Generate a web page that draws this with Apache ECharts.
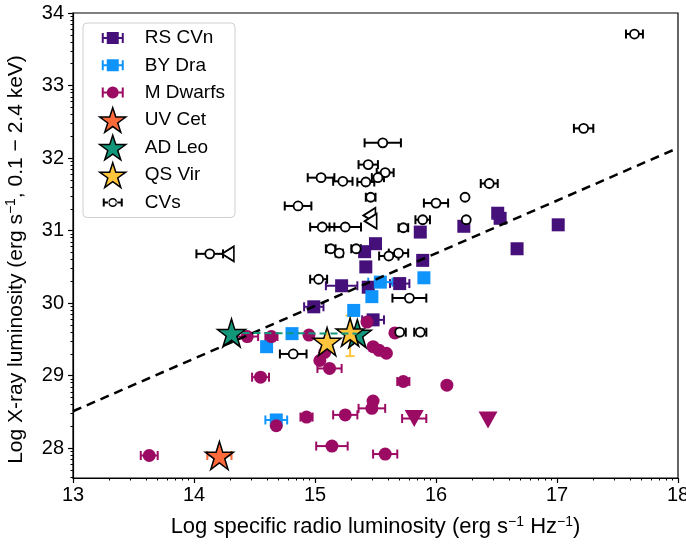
<!DOCTYPE html>
<html>
<head>
<meta charset="utf-8">
<script src="https://cdn.jsdelivr.net/npm/echarts@6/dist/echarts.min.js"></script>
<style>html,body{margin:0;padding:0;background:#fff}#c{width:686px;height:554px}</style>
</head>
<body>
<div id="c"></div>
<script>
// ---------- data ----------
const xTicks = [13, 14, 15, 16, 17, 18];
const yTicks = [28, 29, 30, 31, 32, 33, 34];

const rsX   = [16.51, 16.53, 16.23, 17.01, 16.67, 15.89, 15.87, 15.50, 15.41, 15.42, 15.22, 15.70, 15.44, 14.99, 15.48];
const rsY   = [31.24, 31.17, 31.06, 31.08, 30.75, 30.59, 30.98, 30.82, 30.71, 30.50, 30.24, 30.27, 30.22, 29.95, 29.77];
const rsErr = [0, 0, 0, 0, 0, 0, 0, 0, 0, 0, 0.13, 0.08, 0, 0.08, 0.09];

const byX   = [15.90, 15.54, 15.47, 15.32, 14.81, 14.60, 14.68];
const byY   = [30.35, 30.29, 30.09, 29.90, 29.58, 29.40, 28.39];
const byErr = [0, 0.10, 0, 0, 0, 0, 0.09];

const mdX   = [14.44, 14.64, 14.95, 15.43, 15.04, 15.12, 15.08, 15.48, 15.59, 15.53, 15.66, 14.55, 14.93, 15.25, 15.47, 15.48, 14.68, 13.63, 15.14, 15.58, 15.73, 16.09];
const mdY   = [29.54, 29.54, 29.56, 29.74, 29.21, 29.10, 29.32, 29.40, 29.31, 29.35, 29.59, 28.98, 28.43, 28.46, 28.55, 28.65, 28.31, 27.90, 28.03, 27.92, 28.92, 28.87];
const mdErr = [0.09, 0.05, 0, 0, 0, 0.10, 0, 0, 0, 0, 0, 0.07, 0.05, 0.10, 0.11, 0, 0, 0.07, 0.13, 0.10, 0.05, 0];

const mdLimX   = [15.82, 16.43];
const mdLimY   = [28.41, 28.39];
const mdLimErr = [0.10, 0];

const uvX = [14.21], uvY = [27.90], uvErr = [0.10];
const adX = [14.31, 15.35], adY = [29.59, 29.58];
const qsX = [15.10, 15.29], qsY = [29.47, 29.60];
const qsYLo = [29.47, 29.27], qsYHi = [29.47, 29.83];

const cvX   = [17.64, 17.22, 15.56, 15.44, 15.58, 15.05, 15.23, 15.42, 15.52, 15.46, 14.86, 16.00, 16.24, 15.06, 15.25, 15.73, 15.89, 16.25, 15.13, 15.20, 15.34, 15.61, 15.69, 14.13, 15.03, 15.78, 14.82, 15.70, 15.87, 16.44];
const cvY   = [33.71, 32.41, 32.21, 31.91, 31.80, 31.73, 31.68, 31.67, 31.73, 31.46, 31.34, 31.38, 31.46, 31.05, 31.05, 31.04, 31.15, 31.15, 30.75, 30.69, 30.75, 30.65, 30.69, 30.68, 30.33, 30.07, 29.30, 29.60, 29.60, 31.65];
const cvErr = [0.07, 0.08, 0.15, 0.08, 0.07, 0.11, 0.08, 0.07, 0.05, 0.04, 0.11, 0.10, 0, 0.10, 0.13, 0.04, 0.06, 0, 0.04, 0.03, 0.04, 0.08, 0.08, 0.11, 0.07, 0.14, 0.11, 0.05, 0.05, 0.07];

const cvLimX = [15.45, 15.46, 14.28];
const cvLimY = [31.21, 31.13, 30.68];

const fitX = [13, 18];
const fitY = [28.51, 32.14];

// ---------- styling ----------
const C_RS = '#45107a', C_BY = '#0f94fc', C_MD = '#9c0b63', C_UV = '#ff6a3a', C_AD = '#12977a', C_QS = '#ffc53c';
const FONT = '"Liberation Sans", Arial, Helvetica, sans-serif';
const STAR = 'path://M0,-10L2.245,-3.09L9.511,-3.09L3.633,1.18L5.878,8.09L0,3.82L-5.878,8.09L-3.633,1.18L-9.511,-3.09L-2.245,-3.09Z';

const zip = (xs, ys, es) => xs.map((x, i) => es ? [x, ys[i], es[i]] : [x, ys[i]]);

function minorVals(lo, hi, min, max) {
  const out = [];
  for (let n = lo; n < hi; n++) for (let k = 2; k <= 9; k++) {
    const v = n + Math.log10(k);
    if (v > min && v < max) out.push(v);
  }
  return out;
}

function xErrSeries(name, data, color) {
  return {
    type: 'custom', name: name, data: data, encode: {x: 0, y: 1}, silent: true,
    renderItem: function (params, api) {
      const x = api.value(0), y = api.value(1), e = api.value(2);
      if (!e) return null;
      const a = api.coord([x - e, y]), b = api.coord([x + e, y]);
      const h = 4.5;
      const st = {stroke: color, lineWidth: 2};
      return {type: 'group', children: [
        {type: 'line', shape: {x1: a[0], y1: a[1], x2: b[0], y2: b[1]}, style: st},
        {type: 'line', shape: {x1: a[0], y1: a[1] - h, x2: a[0], y2: a[1] + h}, style: st},
        {type: 'line', shape: {x1: b[0], y1: b[1] - h, x2: b[0], y2: b[1] + h}, style: st}
      ]};
    }
  };
}
function yErrSeries(name, data, color) {
  return {
    type: 'custom', name: name, data: data, encode: {x: 0, y: 1}, silent: true,
    renderItem: function (params, api) {
      const x = api.value(0), lo = api.value(2), hi = api.value(3);
      if (lo === hi) return null;
      const a = api.coord([x, lo]), b = api.coord([x, hi]);
      const h = 4.5;
      const st = {stroke: color, lineWidth: 2};
      return {type: 'group', children: [
        {type: 'line', shape: {x1: a[0], y1: a[1], x2: b[0], y2: b[1]}, style: st},
        {type: 'line', shape: {x1: a[0] - h, y1: a[1], x2: a[0] + h, y2: a[1]}, style: st},
        {type: 'line', shape: {x1: b[0] - h, y1: b[1], x2: b[0] + h, y2: b[1]}, style: st}
      ]};
    }
  };
}

// legend icons: all drawn in a 26x26 box (tiny corner dots fix the bounding box)
const BOX = 'M0,0h0.01v0.01h-0.01zM25.99,25.99h0.01v0.01h-0.01z';
const ICON_SQ = 'path://' + BOX + 'M2,8h2v4h3v-5h12v5h3v-4h2v10h-2v-4h-3v5h-12v-5h-3v4h-2z';
const ICON_CI = 'path://' + BOX + 'M2,8h2v10h-2zM4,12h18v2h-18zM22,8h2v10h-2zM13,7a6,6 0 1,1 0,12a6,6 0 1,1 0,-12z';
const ICON_CV = 'path://' + BOX + 'M3,9h2v8h-2zM5,12h4.5v2h-4.5zM16.5,12h4.5v2h-4.5zM21,9h2v8h-2zM8.5,13a4.5,4.5 0 1,0 9,0a4.5,4.5 0 1,0 -9,0zM10,13a3,3 0 1,1 6,0a3,3 0 1,1 -6,0z';

const supRich = {sup: {fontSize: 14, fontFamily: FONT, color: '#000', padding: [0, 0, 10, 0]}};

const option = {
  animation: false,
  backgroundColor: '#fff',
  textStyle: {fontFamily: FONT},
  grid: {left: 73, right: 8, top: 13, bottom: 76, outerBoundsMode: 'none', containLabel: false,
         show: true, borderColor: '#000', borderWidth: 1.2, backgroundColor: 'transparent'},
  legend: {
    orient: 'vertical', left: 83, top: 23,
    padding: [2, 10, 2, 16],
    itemWidth: 26, itemHeight: 26, itemGap: 1.3,
    backgroundColor: 'rgba(255,255,255,0.85)', borderColor: '#d0d0d0', borderWidth: 1, borderRadius: 4,
    textStyle: {fontSize: 19, color: '#000', fontFamily: FONT, padding: [0, 0, 0, 14]},
    selectedMode: false,
    data: [
      {name: 'RS CVn', icon: ICON_SQ, itemStyle: {color: C_RS, borderWidth: 0}},
      {name: 'BY Dra', icon: ICON_SQ, itemStyle: {color: C_BY, borderWidth: 0}},
      {name: 'M Dwarfs', icon: ICON_CI, itemStyle: {color: C_MD, borderWidth: 0}},
      {name: 'UV Cet', icon: STAR, itemStyle: {color: C_UV, borderColor: '#000', borderWidth: 1.5}},
      {name: 'AD Leo', icon: STAR, itemStyle: {color: C_AD, borderColor: '#000', borderWidth: 1.5}},
      {name: 'QS Vir', icon: STAR, itemStyle: {color: C_QS, borderColor: '#000', borderWidth: 1.5}},
      {name: 'CVs', icon: ICON_CV, itemStyle: {color: '#000', borderWidth: 0}}
    ]
  },
  xAxis: [
    {
      type: 'value', min: 13, max: 18, interval: 1, position: 'bottom',
      name: 'Log specific radio luminosity (erg s{sup|−1} Hz{sup|−1})',
      nameLocation: 'middle', nameGap: 37,
      nameTextStyle: {fontSize: 22, color: '#000', fontFamily: FONT, rich: supRich},
      axisLine: {show: true, onZero: false, lineStyle: {color: '#000', width: 1.2}},
      axisTick: {show: true, length: 5, lineStyle: {color: '#000', width: 1.2}},
      axisLabel: {fontSize: 20, color: '#000', margin: 7, fontFamily: FONT},
      splitLine: {show: false}
    },
    {
      type: 'value', min: 13, max: 18, position: 'bottom',
      axisLine: {show: false}, axisLabel: {show: false}, splitLine: {show: false},
      axisTick: {show: true, length: 2.5, customValues: minorVals(13, 18, 13, 18), lineStyle: {color: '#000', width: 1}}
    }
  ],
  yAxis: [
    {
      type: 'value', min: 27.59, max: 34, position: 'left',
      name: 'Log X-ray luminosity (erg s{sup|−1}, 0.1 − 2.4 keV)',
      nameLocation: 'middle', nameGap: 45,
      nameTextStyle: {fontSize: 21, color: '#000', fontFamily: FONT, rich: supRich, padding: [0, 28, 0, 0]},
      axisLine: {show: true, onZero: false, lineStyle: {color: '#000', width: 1.2}},
      axisTick: {show: true, length: 5, customValues: yTicks, lineStyle: {color: '#000', width: 1.2}},
      axisLabel: {fontSize: 20, color: '#000', margin: 9, customValues: yTicks, fontFamily: FONT},
      splitLine: {show: false}
    },
    {
      type: 'value', min: 27.59, max: 34, position: 'left',
      axisLine: {show: false}, axisLabel: {show: false}, splitLine: {show: false},
      axisTick: {show: true, length: 2.5, customValues: minorVals(27, 34, 27.59, 34), lineStyle: {color: '#000', width: 1}}
    }
  ],
  series: [
    {type: 'line', name: 'fit', data: zip(fitX, fitY), showSymbol: false, symbol: 'none', silent: true,
     lineStyle: {color: '#000', width: 2.5, type: [9, 6]}},
    xErrSeries('RS CVn err', zip(rsX, rsY, rsErr), C_RS),
    {type: 'scatter', name: 'RS CVn', data: zip(rsX, rsY), symbol: 'rect', symbolSize: 13, itemStyle: {color: C_RS, opacity: 1}},
    xErrSeries('BY Dra err', zip(byX, byY, byErr), C_BY),
    {type: 'scatter', name: 'BY Dra', data: zip(byX, byY), symbol: 'rect', symbolSize: 13, itemStyle: {color: C_BY, opacity: 1}},
    xErrSeries('M err', zip(mdX, mdY, mdErr), C_MD),
    xErrSeries('M lim err', zip(mdLimX, mdLimY, mdLimErr), C_MD),
    {type: 'scatter', name: 'M Dwarfs', data: zip(mdX, mdY), symbol: 'circle', symbolSize: 13, itemStyle: {color: C_MD, opacity: 1}},
    {type: 'scatter', name: 'M Dwarfs lim', data: zip(mdLimX, mdLimY), symbol: 'triangle', symbolRotate: 180, symbolSize: [19, 17], itemStyle: {color: C_MD, opacity: 1}},
    xErrSeries('CV err', zip(cvX, cvY, cvErr), '#000'),
    {type: 'scatter', name: 'CVs', data: zip(cvX, cvY), symbol: 'circle', symbolSize: 9,
     itemStyle: {color: '#fff', borderColor: '#000', borderWidth: 1.8, opacity: 1}},
    {type: 'scatter', name: 'CVs lim', data: zip(cvLimX, cvLimY), symbol: 'triangle', symbolRotate: 90, symbolSize: [15, 12],
     itemStyle: {color: '#fff', borderColor: '#000', borderWidth: 1.8, opacity: 1}},
    xErrSeries('UV err', zip(uvX, uvY, uvErr), C_UV),
    {type: 'scatter', name: 'UV Cet', data: zip(uvX, uvY), symbol: STAR, symbolSize: 28,
     itemStyle: {color: C_UV, borderColor: '#000', borderWidth: 1.5, opacity: 1}},
    {type: 'line', name: 'AD Leo link', data: zip(adX, adY), symbol: 'none', silent: true,
     lineStyle: {color: C_AD, width: 2, type: [7, 4]}},
    {type: 'scatter', name: 'AD Leo', data: zip(adX, adY), symbol: STAR, symbolSize: 28,
     itemStyle: {color: C_AD, borderColor: '#000', borderWidth: 1.5, opacity: 1}},
    yErrSeries('QS err', qsX.map((x, i) => [x, qsY[i], qsYLo[i], qsYHi[i]]), C_QS),
    {type: 'scatter', name: 'QS Vir', data: zip(qsX, qsY), symbol: STAR, symbolSize: 28,
     itemStyle: {color: C_QS, borderColor: '#000', borderWidth: 1.5, opacity: 1}}
  ]
};

const chart = echarts.init(document.getElementById('c'), null, {renderer: 'canvas'});
chart.setOption(option);
</script>
</body>
</html>
